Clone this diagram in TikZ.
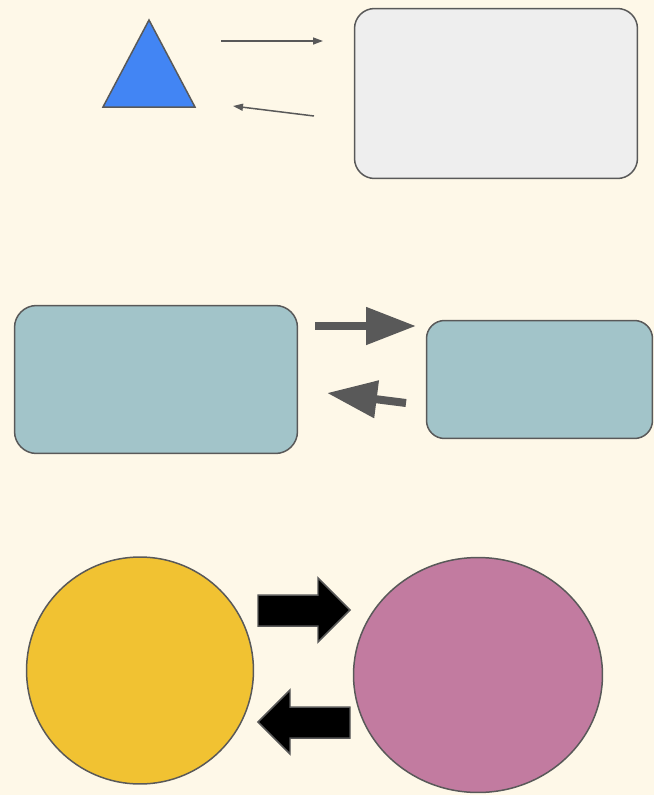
\documentclass[tikz,border=0pt]{standalone}
\usepackage{xcolor}
\usepackage{tikz}
\usetikzlibrary{shapes,arrows.meta,positioning}

\definecolor{cream}{HTML}{FEF8E8}
\definecolor{edge}{HTML}{595959}
\definecolor{lightgrey}{HTML}{EEEEEE}
\definecolor{teal}{HTML}{A2C4C9}
\definecolor{tribl}{HTML}{4285F4}
\definecolor{sun}{HTML}{F1C232}
\definecolor{plum}{HTML}{C27BA0}

\begin{document}
\begin{tikzpicture}[
    x=0.02cm, y=-0.02cm,
    panel/.style={rectangle, draw=edge, line width=0.85pt, rounded corners=0.4cm},
    blob/.style={ellipse, draw=edge, line width=0.85pt},
    thin arrow/.style={-{Triangle[length=0.2cm, width=0.14cm]}, draw=edge, line width=0.85pt},
    fat arrow/.style={-{Triangle[length=1cm, width=0.72cm]}, draw=edge, line width=0.16cm},
    block/.style={fill=black, draw=edge, line width=0.85pt}
]

% Background
\useasboundingbox (0,0) rectangle (654,795);
\fill[cream] (0,0) rectangle (654,795);

% Top row
\draw[fill=tribl, draw=edge, line width=0.85pt] (103,107) -- (149,20) -- (195,107) -- cycle;
\node[panel, fill=lightgrey, minimum width=5.66cm, minimum height=3.4cm] (card) at (496,93.5) {};

\coordinate (t1s) at (221,41);
\coordinate (t1e) at (323,41);
\coordinate (t2s) at (314,116);
\coordinate (t2e) at (233,106);
\draw[thin arrow] (t1s) -- (t1e);
\draw[thin arrow] (t2s) -- (t2e);

% Middle row
\node[panel, fill=teal, minimum width=5.66cm, minimum height=2.96cm, rounded corners=0.44cm] (left box) at (156,379.5) {};
\node[panel, fill=teal, minimum width=4.52cm, minimum height=2.36cm, rounded corners=0.36cm] (right box) at (539.5,379.5) {};

\coordinate (f1s) at (315,326);
\coordinate (f1e) at (416,326);
\coordinate (f2s) at (406,403);
\coordinate (f2e) at (327,393);
\draw[fat arrow] (f1s) -- (f1e);
\draw[fat arrow] (f2s) -- (f2e);

% Bottom row
\node[blob, fill=sun, minimum width=4.54cm, minimum height=4.54cm] (sun disc) at (140,670.5) {};
\node[blob, fill=plum, minimum width=4.98cm, minimum height=4.7cm] (plum disc) at (478,675) {};

\draw[block] (258,595) -- (318,595) -- (318,578) -- (350,610) -- (318,642) -- (318,626) -- (258,626) -- cycle;
\draw[block] (350,707) -- (290,707) -- (290,690) -- (258,722) -- (290,754) -- (290,738) -- (350,738) -- cycle;

\end{tikzpicture}
\end{document}
